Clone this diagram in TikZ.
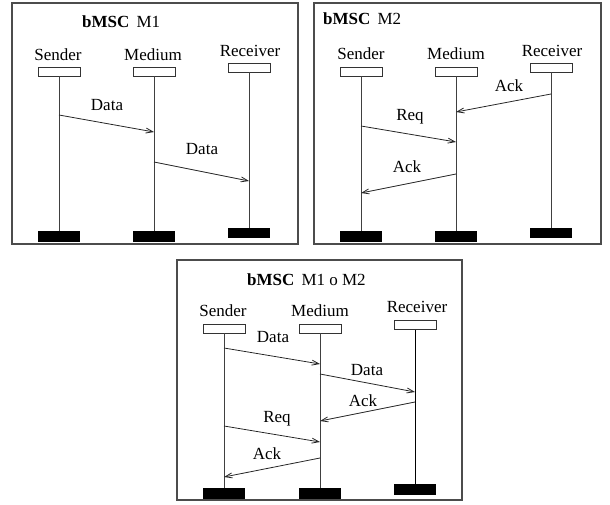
\documentclass[tikz,border=0pt]{standalone}
\usepackage{fontspec}
\setmainfont{Liberation Serif}
\usetikzlibrary{arrows.meta}
\begin{document}
\begin{tikzpicture}[x=1pt,y=-1pt,
  every node/.style={font=\fontsize{17}{20}\selectfont, inner sep=0pt},
  frame/.style={draw=black!70, line width=1.2pt},
  headbox/.style={draw=black!80, fill=white, line width=0.8pt, minimum width=42pt, minimum height=9pt},
  footbox/.style={fill=black, minimum width=42pt, minimum height=10.5pt},
  life/.style={draw=black!75, line width=0.9pt},
  msg/.style={draw=black!85, line width=0.8pt, -{Straight Barb[length=7pt,width=5pt]}},
  lbl/.style={anchor=base},
  lname/.style={anchor=base},
  ttl/.style={anchor=base west}]
\useasboundingbox (0,0) rectangle (610,505);

% ---------------- Panel 1 ----------------
\draw[frame] (12,3) rectangle (298,244);
\node[ttl] (t1) at (82,28) {\textbf{bMSC}\, M1};
\node[lname] (n1s) at (58,61) {Sender};
\node[lname] (n1m) at (153,61) {Medium};
\node[lname] (n1r) at (250,57) {Receiver};
\node[headbox] (h1s) at (59,71.5) {};
\node[headbox] (h1m) at (154,71.5) {};
\node[headbox] (h1r) at (249,67.5) {};
\node[footbox] (f1s) at (59,236.5) {};
\node[footbox] (f1m) at (154,236.5) {};
\node[footbox] (f1r) at (249,233) {};
\draw[life] (h1s.south) -- (f1s.north);
\draw[life] (h1m.south) -- (f1m.north);
\draw[life] (h1r.south) -- (f1r.north);
\coordinate (a1) at (59,115);
\coordinate (b1) at (154,132);
\coordinate (a2) at (154,162);
\coordinate (b2) at (249,181);
\draw[msg] (a1) -- (b1);
\draw[msg] (a2) -- (b2);
\node[lbl] (l11) at (107,111) {Data};
\node[lbl] (l12) at (202,155) {Data};

% ---------------- Panel 2 ----------------
\draw[frame] (314,3) rectangle (601,244);
\node[ttl] (t2) at (323,25) {\textbf{bMSC}\, M2};
\node[lname] (n2s) at (361,60) {Sender};
\node[lname] (n2m) at (456,60) {Medium};
\node[lname] (n2r) at (552,57) {Receiver};
\node[headbox] (h2s) at (361,71.5) {};
\node[headbox] (h2m) at (456,71.5) {};
\node[headbox] (h2r) at (551,67.5) {};
\node[footbox] (f2s) at (361,236.5) {};
\node[footbox] (f2m) at (456,236.5) {};
\node[footbox] (f2r) at (551,233) {};
\draw[life] (h2s.south) -- (f2s.north);
\draw[life] (h2m.south) -- (f2m.north);
\draw[life] (h2r.south) -- (f2r.north);
\coordinate (c1) at (551,94);
\coordinate (d1) at (456,112);
\coordinate (c2) at (361,126);
\coordinate (d2) at (456,142);
\coordinate (c3) at (456,174);
\coordinate (d3) at (361,193);
\draw[msg] (c1) -- (d1);
\draw[msg] (c2) -- (d2);
\draw[msg] (c3) -- (d3);
\node[lbl] (l21) at (509,92) {Ack};
\node[lbl] (l22) at (410,121) {Req};
\node[lbl] (l23) at (407,173) {Ack};

% ---------------- Panel 3 ----------------
\draw[frame] (177,260) rectangle (462,500);
\node[ttl] (t3) at (247,285) {\textbf{bMSC}\, M1 o M2};
\node[lname] (n3s) at (223,316) {Sender};
\node[lname] (n3m) at (320,316) {Medium};
\node[lname] (n3r) at (417,312) {Receiver};
\node[headbox] (h3s) at (224,328.5) {};
\node[headbox] (h3m) at (320,328.5) {};
\node[headbox] (h3r) at (415,325) {};
\node[footbox] (f3s) at (224,493.5) {};
\node[footbox] (f3m) at (320,493.5) {};
\node[footbox] (f3r) at (415,489.5) {};
\draw[life] (h3s.south) -- (f3s.north);
\draw[life] (h3m.south) -- (f3m.north);
\draw[life, draw=black] (h3r.south) -- (f3r.north);
\coordinate (e1) at (224,348);
\coordinate (g1) at (320,364);
\coordinate (e2) at (320,374);
\coordinate (g2) at (415,392);
\coordinate (e3) at (415,402);
\coordinate (g3) at (320,421);
\coordinate (e4) at (224,426);
\coordinate (g4) at (320,442);
\coordinate (e5) at (320,458);
\coordinate (g5) at (224,477);
\draw[msg] (e1) -- (g1);
\draw[msg] (e2) -- (g2);
\draw[msg] (e3) -- (g3);
\draw[msg] (e4) -- (g4);
\draw[msg] (e5) -- (g5);
\node[lbl] (l31) at (273,342) {Data};
\node[lbl] (l32) at (367,375) {Data};
\node[lbl] (l33) at (363,406) {Ack};
\node[lbl] (l34) at (277,422) {Req};
\node[lbl] (l35) at (267,459) {Ack};
\end{tikzpicture}
\end{document}
